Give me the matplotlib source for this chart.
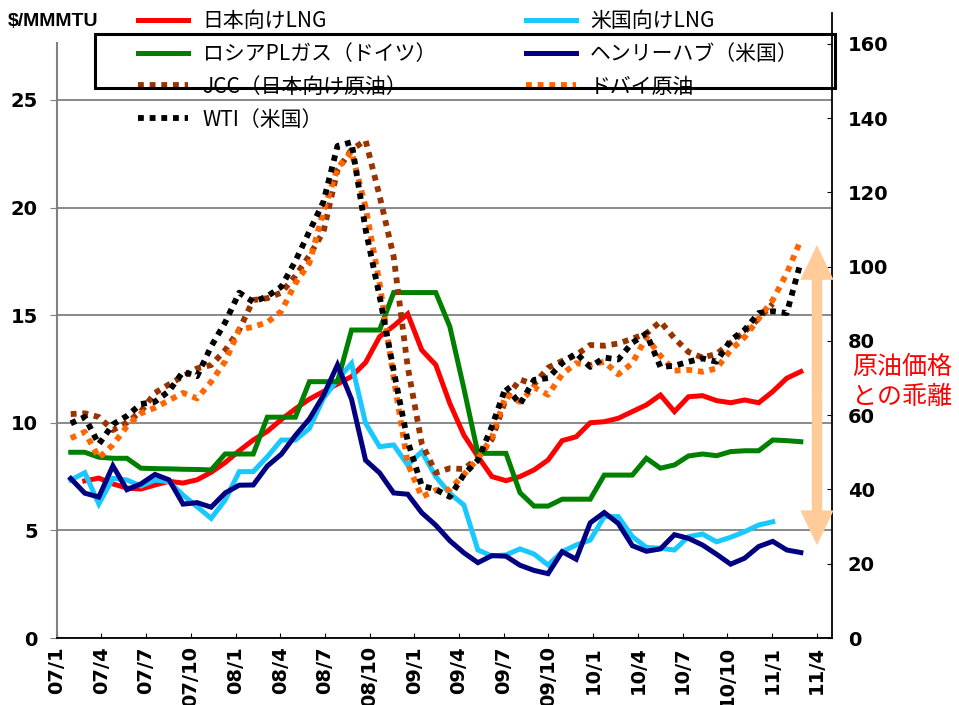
import numpy as np
import matplotlib
matplotlib.use("Agg")
import matplotlib.pyplot as plt
from matplotlib.patches import Rectangle, FancyArrowPatch

nan = np.nan

# month index, 2006/10 = 0; series run 2006/11 .. 2011/3
months = np.arange(1, 54)

# $/MMBtu (left axis)
japan_lng = [nan, 7.3, 7.43, 7.16, 6.97, 6.92, 7.11, 7.28, 7.2, 7.35,
             7.7, 8.15, 8.7, 9.2, 9.6, 10.15, 10.65, 11.1, 11.45, 11.8,
             12.15, 12.8, 14.0, 14.5, 15.06, 13.38, 12.69, 10.9, 9.43, 8.43,
             7.5, 7.31, 7.5, 7.81, 8.27, 9.17, 9.35, 10.0, 10.05, 10.21,
             10.52, 10.83, 11.29, 10.52, 11.21, 11.26, 11.03, 10.93, 11.06, 10.93,
             11.45, 12.07, 12.38]
us_lng = [7.34, 7.68, 6.23, 7.42, 7.34, 7.06, 7.34, 7.26, 6.64, 6.10,
          5.56, 6.41, 7.73, 7.73, 8.42, 9.2, 9.2, 9.74, 11.14, 12.0,
          12.76, 9.98, 8.89, 8.97, 8.04, 8.66, 7.5, 6.72, 6.18, 4.09,
          3.81, 3.86, 4.14, 3.9, 3.39, 4.01, 4.32, 4.55, 5.64, 5.64,
          4.71, 4.21, 4.17, 4.09, 4.71, 4.83, 4.47, 4.68, 4.94, 5.25,
          5.40, nan, nan]
russia_pl = [8.63, 8.63, 8.4, 8.35, 8.35, 7.89, 7.87, 7.86, 7.84, 7.83,
             7.81, 8.55, 8.55, 8.55, 10.26, 10.26, 10.26, 11.91, 11.91, 11.91,
             14.31, 14.31, 14.31, 16.05, 16.05, 16.05, 16.05, 14.47, 11.6, 8.58,
             8.58, 8.58, 6.75, 6.13, 6.13, 6.45, 6.45, 6.45, 7.57, 7.57,
             7.57, 8.35, 7.89, 8.04, 8.46, 8.55, 8.47, 8.66, 8.70, 8.70,
             9.2, 9.17, 9.12]
henry_hub = [7.41, 6.73, 6.55, 8.00, 6.89, 7.16, 7.60, 7.35, 6.22, 6.29,
             6.08, 6.74, 7.10, 7.11, 7.99, 8.54, 9.41, 10.18, 11.27, 12.69,
             11.09, 8.26, 7.67, 6.74, 6.68, 5.82, 5.24, 4.52, 3.96, 3.50,
             3.83, 3.80, 3.38, 3.14, 2.99, 4.01, 3.66, 5.35, 5.83, 5.32,
             4.29, 4.03, 4.14, 4.80, 4.63, 4.32, 3.89, 3.43, 3.71, 4.25,
             4.49, 4.09, 3.97]

# $/bbl (right axis)
jcc = [60.3, 60.5, 59.5, 56.0, 58.0, 61.0, 66.0, 68.3, 70.5, 72.6,
       73.5, 77.5, 83.0, 91.0, 91.5, 93.0, 97.5, 103.0, 109.4, 126.0,
       131.5, 134.0, 119.0, 102.7, 73.0, 52.4, 44.5, 45.7, 45.5, 48.5,
       53.5, 64.5, 69.6, 68.3, 72.8, 74.6, 76.2, 78.9, 78.7, 79.3,
       80.6, 82.0, 85.2, 80.7, 77.0, 75.5, 76.5, 79.5, 82.5, 86.0,
       90.0, nan, nan]
dubai = [53.8, 55.5, 48.5, 52.0, 57.0, 60.5, 62.0, 64.0, 66.0, 64.5,
         69.0, 74.5, 83.0, 83.8, 85.0, 88.0, 95.5, 101.0, 115.0, 126.5,
         131.0, 116.0, 95.5, 70.0, 47.0, 38.0, 39.8, 40.0, 44.0, 48.3,
         54.0, 65.5, 63.6, 67.5, 65.5, 71.0, 74.0, 73.5, 74.4, 71.0,
         74.0, 81.0, 76.0, 72.0, 72.2, 71.7, 72.6, 77.5, 81.0, 86.0,
         91.0, 98.2, 107.2]
wti = [57.8, 59.5, 52.2, 57.5, 59.8, 63.0, 63.6, 66.5, 71.7, 70.5,
       78.5, 85.0, 93.0, 90.5, 92.0, 94.6, 101.5, 109.5, 117.5, 132.5,
       133.5, 110.0, 92.0, 72.0, 53.0, 41.0, 40.0, 38.0, 44.0, 47.9,
       57.0, 67.7, 63.0, 69.5, 70.0, 74.0, 76.7, 73.0, 75.5, 75.0,
       79.5, 82.0, 73.0, 73.3, 74.4, 75.3, 74.4, 80.2, 83.0, 87.5,
       88.0, 87.5, 101.3]

tick_labels = ["07/1", "07/4", "07/7", "07/10", "08/1", "08/4", "08/7", "08/10",
               "09/1", "09/4", "09/7", "09/10", "10/1", "10/4", "10/7", "10/10",
               "11/1", "11/4"]

jp_font = ["Noto Sans CJK JP", "DejaVu Sans"]
plt.rcParams["font.family"] = ["DejaVu Sans"]

W, H = 959, 705
fig = plt.figure(figsize=(W / 100, H / 100), dpi=100)
ax = fig.add_axes([56.7 / W, 67 / H, 775 / W, 625 / H])
ax2 = ax.twinx()

solid = dict(lw=3.6, solid_joinstyle="miter")
l1, = ax.plot(months, japan_lng, color="#FF0000", label="日本向けLNG", **solid)
l2, = ax.plot(months, us_lng, color="#19C8FF", label="米国向けLNG", **solid)
l3, = ax.plot(months, russia_pl, color="#008000", label="ロシアPLガス（ドイツ）", **solid)
l4, = ax.plot(months, henry_hub, color="#000080", label="ヘンリーハブ（米国）", **solid)

dotted = dict(lw=4.2, linestyle=(0, (1, 1)))
l5, = ax2.plot(months, jcc, color="#993300", label="JCC（日本向け原油）", **dotted)
l6, = ax2.plot(months, dubai, color="#FF6600", label="ドバイ原油", **dotted)
l7, = ax2.plot(months, wti, color="#000000", label="WTI（米国）", **dotted)

ax.set_xlim(0, 55.2)
ax.set_ylim(0, 29.04)
ax2.set_ylim(0, 168.3)

ax.set_xticks(np.linspace(0, 54.13, len(tick_labels)))
ax.set_xticklabels(tick_labels, rotation=90, fontsize=14, fontweight="bold")
ax.set_yticks(range(0, 30, 5))
ax.set_yticklabels([str(v) for v in range(0, 30, 5)], fontsize=14, fontweight="bold")
ax.tick_params(axis="y", direction="out", length=5, color="#808080", pad=8.5)
ax.tick_params(axis="x", direction="in", length=3.6, pad=6)
ax2.set_yticks(range(0, 170, 20))
ax2.set_yticklabels([str(v) for v in range(0, 170, 20)], fontsize=14, fontweight="bold")
ax2.tick_params(axis="y", direction="in", length=3.6, pad=11.5)

ax.yaxis.grid(True, color="#808080", lw=1.3)
ax.set_axisbelow(True)

for sp in ["top", "right"]:
    ax.spines[sp].set_visible(False)
for sp in ["top", "left", "bottom"]:
    ax2.spines[sp].set_visible(False)
ax.spines["left"].set_color("#808080")
ax.spines["left"].set_linewidth(1.5)
ax.spines["left"].set_bounds(0, 27.65)
ax.spines["bottom"].set_linewidth(1.3)
ax2.spines["right"].set_linewidth(1.3)

# double arrow: gap to crude oil prices
arrow_x, arrow_lo, arrow_hi = 54.15, 25.0, 105.8
mid = (arrow_lo + arrow_hi) / 2
for tip in (arrow_hi, arrow_lo):
    ax2.add_patch(FancyArrowPatch(
        (arrow_x, mid), (arrow_x, tip),
        arrowstyle="simple,head_width=24,head_length=25,tail_width=7.5",
        mutation_scale=1, shrinkA=0, shrinkB=0, color="#FFCC99", lw=0,
        clip_on=False, zorder=4))

fig.text(852 / W, 1 - 382 / H, "原油価格\nとの乖離", color="red", fontsize=18,
         family=jp_font, ha="left", va="center", linespacing=1.2)
fig.text(8 / W, 1 - 22 / H, r"\$/MMMTU", fontsize=14, fontweight="bold",
         family="Liberation Sans", ha="left", va="center")

handles = [l1, l3, l5, l7, l2, l4, l6]
fig.legend(handles=handles, labels=[h.get_label() for h in handles],
           loc="upper left", bbox_to_anchor=(138 / W, 1 - 10 / H), ncol=2,
           frameon=False, borderaxespad=0, borderpad=0,
           handlelength=2.4, handletextpad=0.7, columnspacing=4.3,
           labelspacing=0.52, prop={"family": jp_font, "size": 15})

fig.add_artist(Rectangle((95 / W, 1 - 88 / H), (835 - 95) / W, (88 - 34) / H,
                         transform=fig.transFigure, fill=False, lw=2.2,
                         ec="black", zorder=10))

fig.savefig("out.png", dpi=100)
